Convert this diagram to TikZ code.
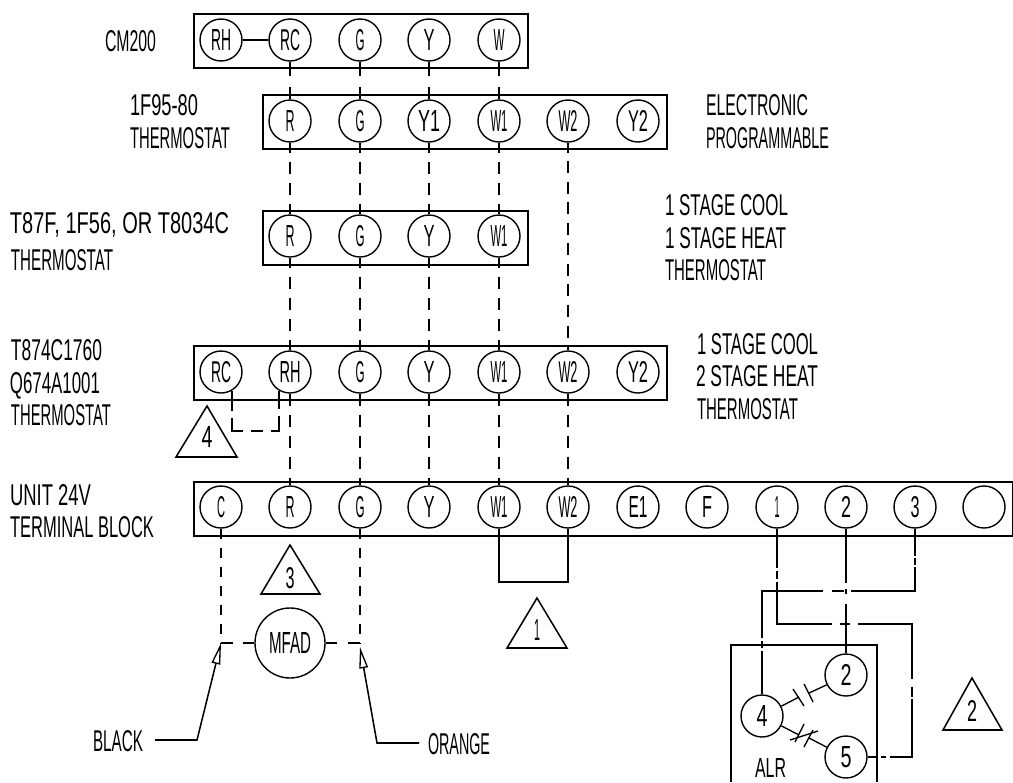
\documentclass[tikz,border=0pt]{standalone}
\usepackage{graphicx}
\usepackage{fontspec}
\setmainfont{Liberation Sans}
\usetikzlibrary{arrows.meta}
\newdimen\pxu \pxu=0.75pt
\newcommand{\cad}[3]{\resizebox{#1\pxu}{#2\pxu}{#3}}
\tikzset{
  wire/.style={line width=1.15pt,line join=miter},
  thinwire/.style={line width=1pt},
  boxline/.style={draw,line width=1.15pt},
  term/.style={circle,draw,line width=1.05pt,minimum size=31.5pt,inner sep=0pt},
  lbl/.style={anchor=base west,inner sep=0pt,outer sep=0pt},
  digit/.style={inner sep=0pt,outer sep=0pt},
  dashlong/.style={wire,dash pattern=on 9pt off 6.4pt,dash phase=1.5pt},
  openarrow/.style={wire,-{Triangle[open,length=16pt,width=6.5pt,line width=1pt]}},
}
\begin{document}
\begin{tikzpicture}[x=0.75pt,y=-0.75pt]
\useasboundingbox (0,0) rectangle (1013,782);

% terminal strips
\node[boxline,anchor=north west,minimum width=250.5pt,minimum height=40.5pt,inner sep=0pt] (box1) at (193,13) {};
\node[boxline,anchor=north west,minimum width=303pt,minimum height=40.5pt,inner sep=0pt] (box2) at (262,94) {};
\node[boxline,anchor=north west,minimum width=198.75pt,minimum height=40.5pt,inner sep=0pt] (box3) at (262,210) {};
\node[boxline,anchor=north west,minimum width=354.75pt,minimum height=40.5pt,inner sep=0pt] (box4) at (193,345) {};
\node[boxline,anchor=north west,minimum width=614.25pt,minimum height=40.5pt,inner sep=0pt] (box5) at (193,481) {};

% row 1
\node[term] (a1) at (221,40) {\cad{20}{21}{RH}};
\node[term] (a2) at (290,40) {\cad{20}{21}{RC}};
\node[term] (a3) at (360,40) {\cad{9}{21}{G}};
\node[term] (a4) at (429,40) {\cad{11}{21}{Y}};
\node[term] (a5) at (499,40) {\cad{11}{21}{W}};
% row 2
\node[term] (b1) at (290,121) {\cad{9}{21}{R}};
\node[term] (b2) at (360,121) {\cad{9}{21}{G}};
\node[term] (b3) at (429,121) {\cad{22}{21}{Y1}};
\node[term] (b4) at (499,121) {\cad{17}{21}{W1}};
\node[term] (b5) at (568,121) {\cad{19}{21}{W2}};
\node[term] (b6) at (638,121) {\cad{20}{21}{Y2}};
% row 3
\node[term] (c1) at (290,236) {\cad{9}{21}{R}};
\node[term] (c2) at (360,236) {\cad{9}{21}{G}};
\node[term] (c3) at (429,236) {\cad{11}{21}{Y}};
\node[term] (c4) at (499,236) {\cad{17}{21}{W1}};
% row 4
\node[term] (d1) at (221,372) {\cad{20}{21}{RC}};
\node[term] (d2) at (290,372) {\cad{21}{21}{RH}};
\node[term] (d3) at (360,372) {\cad{9}{21}{G}};
\node[term] (d4) at (429,372) {\cad{11}{21}{Y}};
\node[term] (d5) at (499,372) {\cad{17}{21}{W1}};
\node[term] (d6) at (568,372) {\cad{19}{21}{W2}};
\node[term] (d7) at (638,372) {\cad{20}{21}{Y2}};
% row 5
\node[term] (e1) at (221,507) {\cad{8}{21}{C}};
\node[term] (e2) at (290,507) {\cad{9}{21}{R}};
\node[term] (e3) at (360,507) {\cad{9}{21}{G}};
\node[term] (e4) at (429,507) {\cad{11}{21}{Y}};
\node[term] (e5) at (499,507) {\cad{17}{21}{W1}};
\node[term] (e6) at (568,507) {\cad{19}{21}{W2}};
\node[term] (e7) at (638,507) {\cad{19}{21}{E1}};
\node[term] (e8) at (707,507) {\cad{10}{21}{F}};
\node[term] (e9) at (777,507) {\cad{5}{21}{1}};
\node[term] (e10) at (846,507) {\cad{10}{21}{2}};
\node[term] (e11) at (915,507) {\cad{9}{21}{3}};
\node[term] (e12) at (984,507) {};

% row 1 jumper
\draw[wire] (a1) -- (a2);

% risers: row 1 to row 2
\foreach \p/\q in {a2/b1,a3/b2,a4/b3,a5/b4}
  \draw[wire,dash pattern=on 10.5pt off 8.5pt on 11pt] (\p.south) -- (\q.north);
% row 2 to row 3
\foreach \p/\q in {b1/c1,b2/c2,b3/c3,b4/c4}
  \draw[wire,dash pattern=on 9pt off 6.75pt,dash phase=1.5pt] (\p.south) -- (\q.north);
% row 3 to row 4
\foreach \p/\q in {c1/d2,c2/d3,c3/d4,c4/d5}
  \draw[wire,dash pattern=on 9pt off 6.75pt,dash phase=1.5pt] (\p.south) -- (\q.north);
% row 2 direct to row 4
\draw[dashlong] (b5.south) -- (d6.north);
% row 4 to row 5
\foreach \p/\q in {d2/e2,d3/e3,d4/e4,d5/e5,d6/e6}
  \draw[wire,dash pattern=on 9pt off 6.75pt] (\p.south) -- (\q.north);

% RC-RH jumper
\draw[wire,dash pattern=on 15pt off 5.25pt on 18pt off 6pt on 9pt off 6pt on 18pt off 5.25pt on 15pt]
  (d1.-60) |- (d2.-120 |- 0,431) -- (d2.-120);

% W1-W2 link
\coordinate (lk1) at (499,582);
\coordinate (lk2) at (568,582);
\draw[wire] (e5.south) -- (lk1) -- (lk2) -- (e6.south);

% MFAD
\node[circle,draw,line width=1.05pt,minimum size=52.5pt,inner sep=0pt] (mfad) at (290,643) {\cad{42}{21}{MFAD}};
\coordinate (jb) at (221,643);
\coordinate (jo) at (360,643);
\coordinate (to) at (360,647);
\draw[wire,dash pattern=on 7.5pt off 6.75pt] (e1.south) -- (jb);
\draw[wire,dash pattern=on 7.5pt off 6.75pt] (e3.south) -- (jo);
\draw[wire,dash pattern=on 9pt off 7.5pt on 9pt] (jb) -- (mfad.west);
\draw[wire,dash pattern=on 8.25pt off 8.25pt on 9.75pt] (mfad.east) -- (jo);

% relay ALR
\coordinate (rb1) at (731,782);
\coordinate (rb2) at (731,645);
\coordinate (rb3) at (877,645);
\coordinate (rb4) at (877,782);
\draw[wire] (rb1) -- (rb2) -- (rb3) -- (rb4);
\node[term] (r2) at (846,675) {\cad{11}{21}{2}};
\node[term] (r4) at (762,716) {\cad{11}{21}{4}};
\node[term] (r5) at (846,757) {\cad{11}{21}{5}};

% dash-dot wires
\coordinate (wa1) at (915,591);
\coordinate (wa2) at (762,591);
\coordinate (wb1) at (777,624);
\coordinate (wb2) at (912,624);
\coordinate (wb3) at (912,757);
\draw[wire,dash pattern=on 20.25pt off 1.5pt on 5.25pt off 1.5pt on 66pt off 5.25pt on 9pt off 6.75pt on 81pt off 2.25pt on 5.25pt off 2.25pt on 34pt]
  (e11.south) -- (wa1) -- (wa2) -- (r4.north);
\draw[wire,dash pattern=on 29.25pt off 2.25pt on 6pt off 2.25pt on 72.75pt off 6pt on 7.5pt off 6pt on 81.75pt off 6pt on 7.5pt off 1.5pt on 60pt off 3pt on 3.75pt off 2.25pt on 10pt]
  (e9.south) -- (wb1) -- (wb2) -- (wb3) -- (r5.east);
\draw[wire,dash pattern=on 40.5pt off 4.5pt on 3.75pt off 7.5pt on 38.25pt]
  (e10.south) -- (r2.north);

% contacts
\coordinate (k1a) at (799,697);
\coordinate (k1b) at (793,689);
\coordinate (k1c) at (804,706);
\coordinate (k1d) at (804,684);
\coordinate (k1e) at (813,702);
\coordinate (k1f) at (809,693);
\draw[thinwire] (r4.27) -- (k1a);
\draw[thinwire] (k1b) -- (k1c);
\draw[thinwire] (k1d) -- (k1e);
\draw[thinwire] (k1f) -- (r2.-153);
\coordinate (k2a) at (799,735);
\coordinate (k2b) at (804,724);
\coordinate (k2c) at (795,742);
\coordinate (k2d) at (813,730);
\coordinate (k2e) at (804,747);
\coordinate (k2f) at (790,740);
\coordinate (k2g) at (818,731);
\coordinate (k2h) at (809,738);
\draw[thinwire] (r4.-27) -- (k2a);
\draw[thinwire] (k2b) -- (k2c);
\draw[thinwire] (k2d) -- (k2e);
\draw[thinwire] (k2f) -- (k2g);
\draw[thinwire] (k2h) -- (r5.153);

% triangle notes
\draw[wire] (207,406) -- (176,457) -- (237,457) -- cycle;
\node[digit] (n4) at (207,437) {\cad{11}{21}{4}};
\draw[wire] (290,545) -- (261,594) -- (320,594) -- cycle;
\node[digit] (n3) at (290,578) {\cad{9}{21}{3}};
\draw[wire] (537,598) -- (507,648) -- (567,648) -- cycle;
\node[digit] (n1) at (537,630) {\cad{6}{21}{1}};
\draw[wire] (972,678) -- (943,730) -- (1002,730) -- cycle;
\node[digit] (n2) at (972,711) {\cad{10}{21}{2}};

% labels
\node[lbl] (t1) at (105,51) {\cad{51}{21}{CM200}};
\node[lbl] (t2) at (130,115) {\cad{68}{21}{1F95-80}};
\node[lbl] (t3) at (130,148) {\cad{100}{21}{THERMOSTAT}};
\node[lbl] (t4) at (10,233) {\cad{219}{21}{T87F, 1F56, OR T8034C}};
\node[lbl] (t5) at (11,270) {\cad{102}{21}{THERMOSTAT}};
\node[lbl] (t6) at (11,360) {\cad{91}{21}{T874C1760}};
\node[lbl] (t7) at (10,393) {\cad{90}{21}{Q674A1001}};
\node[lbl] (t8) at (11,425) {\cad{100}{21}{THERMOSTAT}};
\node[lbl] (t9) at (10,505) {\cad{81}{21}{UNIT 24V}};
\node[lbl] (t10) at (10,537) {\cad{144}{21}{TERMINAL BLOCK}};
\node[lbl] (t11) at (706,115) {\cad{102}{21}{ELECTRONIC}};
\node[lbl] (t12) at (706,148) {\cad{123}{21}{PROGRAMMABLE}};
\node[lbl] (t13) at (665,215) {\cad{123}{21}{1 STAGE COOL}};
\node[lbl] (t14) at (665,248) {\cad{121}{21}{1 STAGE HEAT}};
\node[lbl] (t15) at (665,280) {\cad{101}{21}{THERMOSTAT}};
\node[lbl] (t16) at (697,354) {\cad{121}{21}{1 STAGE COOL}};
\node[lbl] (t17) at (696,386) {\cad{122}{21}{2 STAGE HEAT}};
\node[lbl] (t18) at (697,419) {\cad{101}{21}{THERMOSTAT}};
\node[lbl] (blk) at (93,751) {\cad{50}{21}{BLACK}};
\node[lbl] (org) at (428,754) {\cad{62}{21}{ORANGE}};
\node[lbl] (alr) at (755,777) {\cad{31}{19}{ALR}};

% leaders
\coordinate (lb1) at (155,740);
\coordinate (lb2) at (197,740);
\coordinate (lo1) at (419,743);
\coordinate (lo2) at (377,743);
\draw[openarrow] (lb1) -- (lb2) -- (jb);
\draw[openarrow] (lo1) -- (lo2) -- (to);
\end{tikzpicture}
\end{document}
